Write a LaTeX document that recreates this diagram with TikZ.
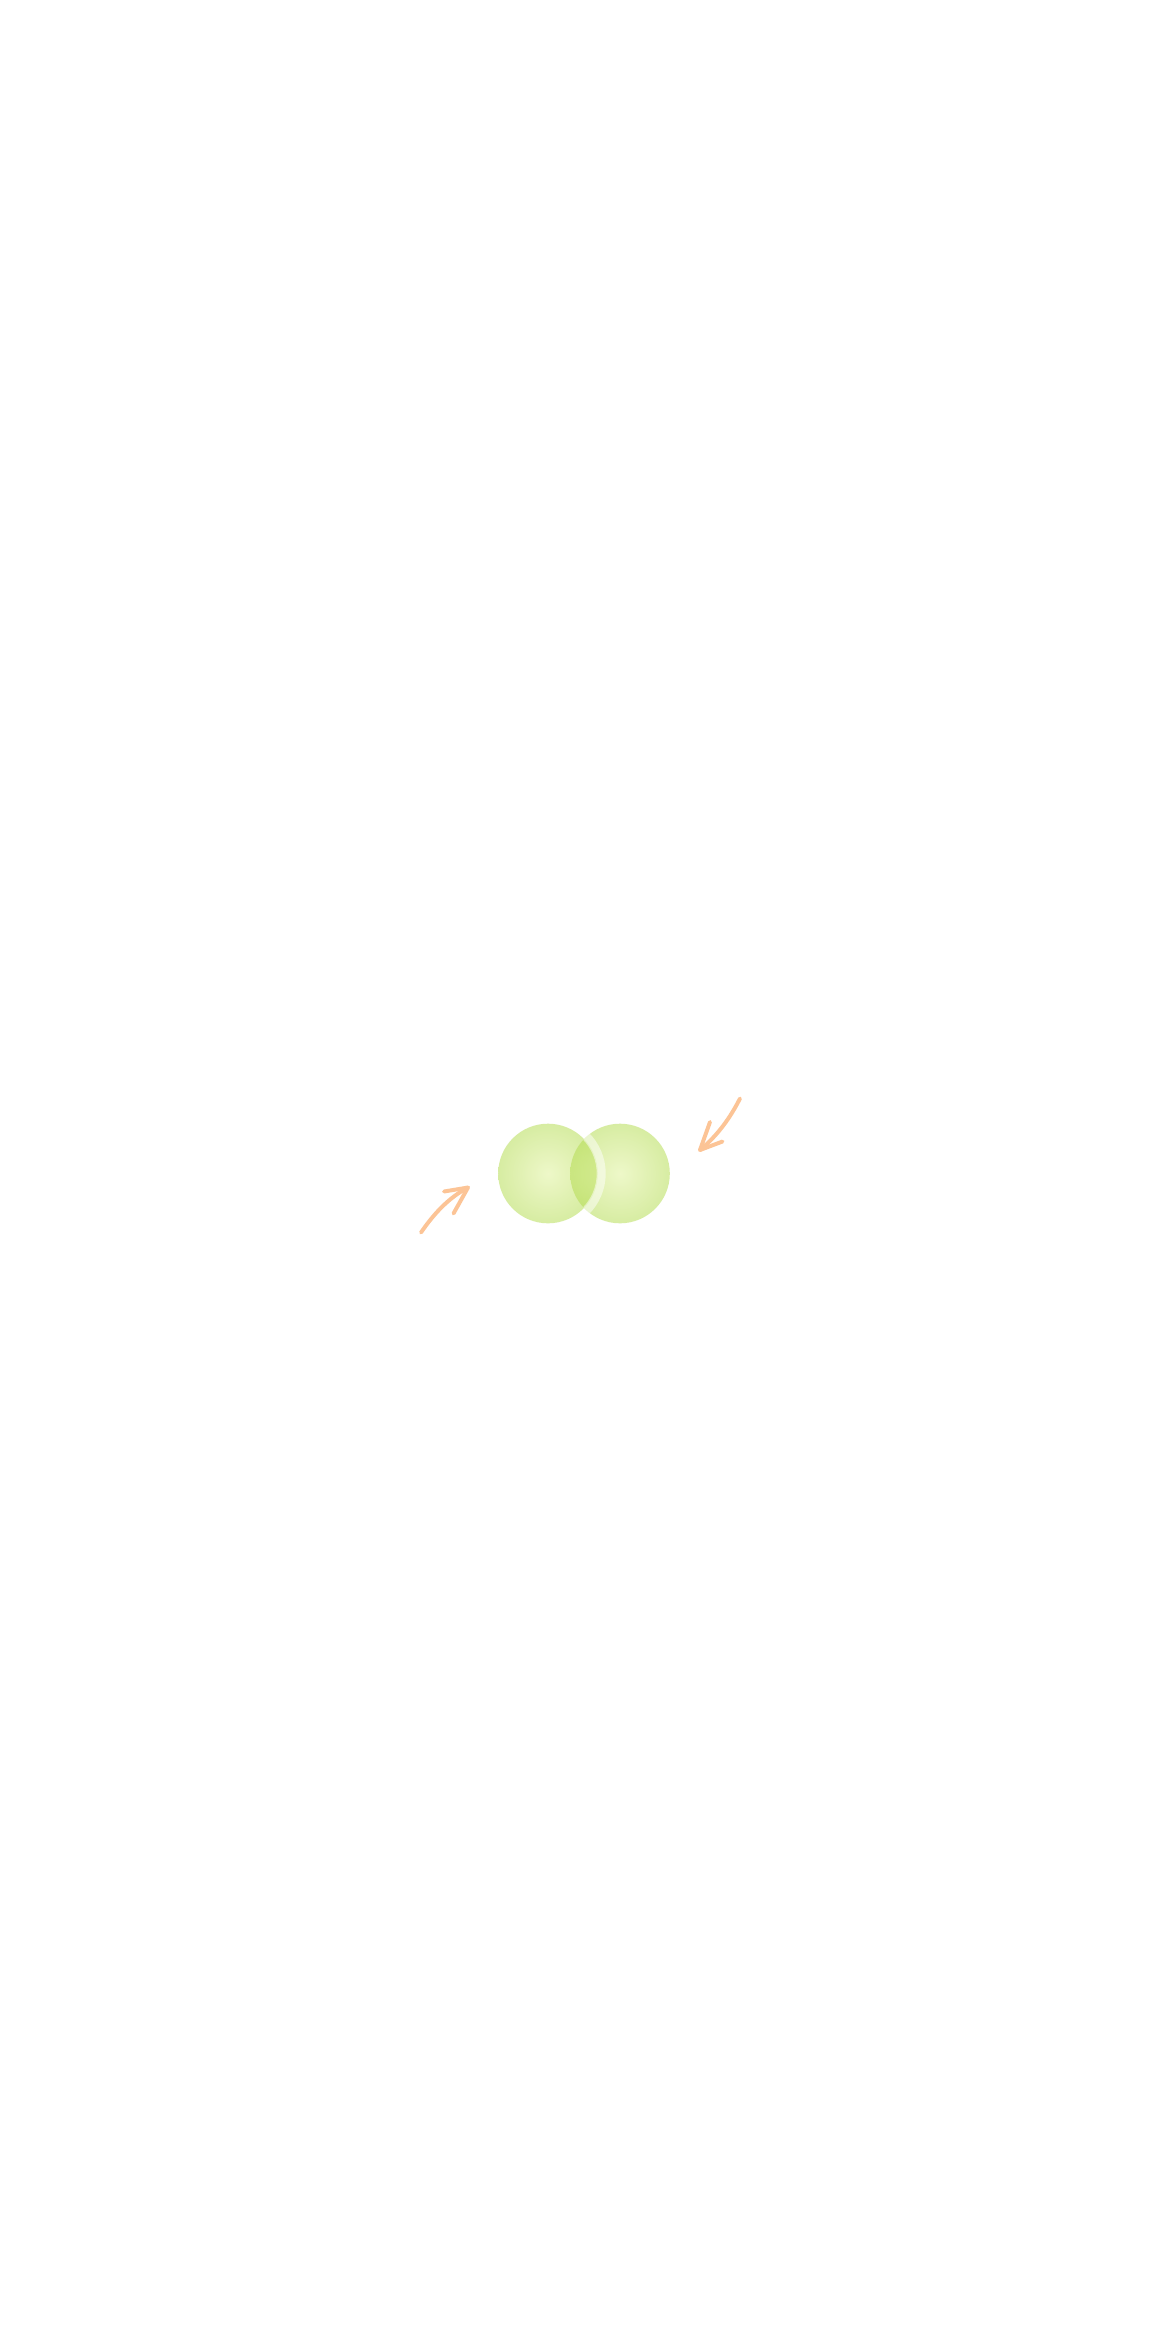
\documentclass[tikz,border=0pt]{standalone}
\usepackage{tikz}
\usetikzlibrary{positioning,calc}
\definecolor{ballIn}{HTML}{DFF299}
\definecolor{ballOut}{HTML}{B4DC50}
\definecolor{pushOr}{HTML}{FCC496}
\pgfdeclareradialshading{ballshade}{\pgfpoint{0bp}{0bp}}{color(0bp)=(ballIn); color(25bp)=(ballOut); color(50bp)=(ballOut)}
\def\ballr{1.245}
\def\ringr{1.33}

\begin{document}
\begin{tikzpicture}[
  x=0.025cm, y=-0.025cm,
  ball/.style={circle, draw=none, inner sep=0pt, minimum size=2*\ballr cm,
               shading=ballshade, opacity=0.53},
  push/.style={draw=pushOr, line width=2.8pt, line cap=round, line join=round},
  rim/.style={draw=white, line width=6.4pt, opacity=0.5},
]
\useasboundingbox[fill=white] (0,0) rectangle (1170,2352);

% =====================================================================
% TWO BALLS (overlapping)
% =====================================================================
\node[ball] (ballL) at (548,1173.5){};
\node[ball] (ballR) at (620,1173.5){};

% light rim of the left ball, seen through the right one
\begin{scope}
  \clip (ballR.center) circle (\ballr cm);
  \draw[rim] (ballL.center) circle (\ringr cm);
\end{scope}

% =====================================================================
% PUSH ARROWS
% =====================================================================
\coordinate (pushLtail) at (421,1232.5);
\coordinate (pushLtip)  at (468,1187.5);
\coordinate (pushLa)    at (444,1191.5);
\coordinate (pushLb)    at (453.5,1213.5);
\draw[push] (pushLtail) .. controls (435,1212) and (450,1197) .. (pushLtip);
\draw[push] (pushLa) -- (pushLtip) -- (pushLb);

\coordinate (pushRtail) at (740,1098.5);
\coordinate (pushRtip)  at (700,1150);
\coordinate (pushRa)    at (710,1122);
\coordinate (pushRb)    at (722.5,1141.5);
\draw[push] (pushRtail) .. controls (730,1118) and (718,1135) .. (pushRtip);
\draw[push] (pushRa) -- (pushRtip) -- (pushRb);

\end{tikzpicture}
\end{document}
